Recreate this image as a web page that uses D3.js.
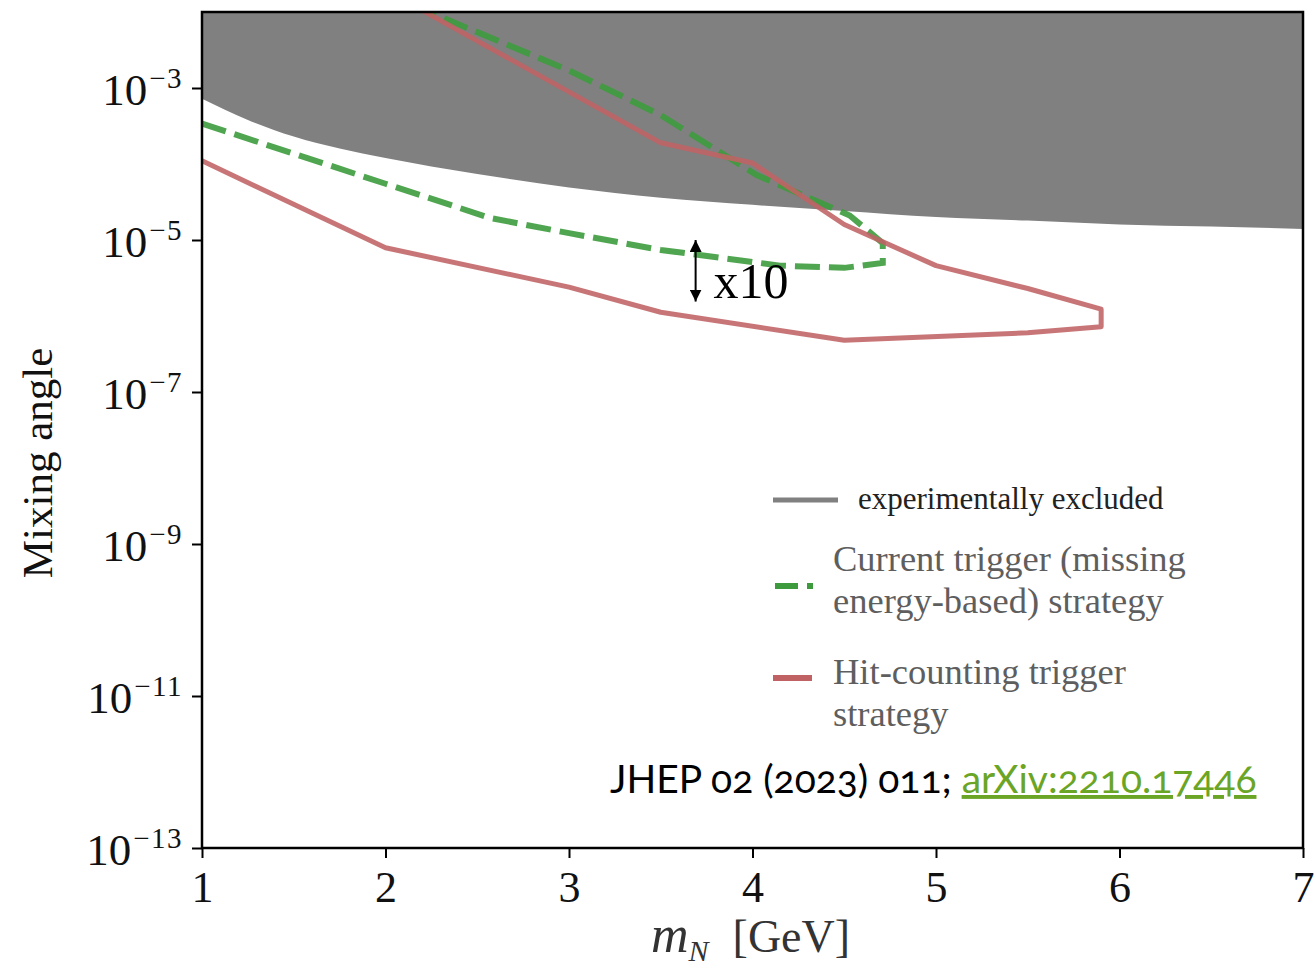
<!DOCTYPE html>
<html>
<head>
<meta charset="utf-8">
<script src="https://cdn.jsdelivr.net/npm/d3@7"></script>
<style>
  body { margin: 0; background: #fff; }
  text { font-family: "Liberation Serif", serif; }
</style>
</head>
<body>
<script>
const W = 1315, H = 966;
const margin = {top: 12, right: 12, bottom: 118, left: 202};

// axes
const massTicks = [1, 2, 3, 4, 5, 6, 7];
const mixExponents = [-13, -11, -9, -7, -5, -3];

// experimentally excluded region (lower boundary, everything above is excluded)
const exclMass = [1, 1.25, 1.5, 1.75, 2, 2.5, 3, 3.5, 4, 4.5, 5, 5.5, 6, 6.5, 7];
const exclMix = [7.2e-4, 3.8e-4, 2.3e-4, 1.6e-4, 1.2e-4, 7.4e-5, 4.9e-5, 3.6e-5,
                 2.9e-5, 2.4e-5, 2.0e-5, 1.8e-5, 1.6e-5, 1.5e-5, 1.4e-5];

// current trigger (missing energy-based) strategy
const curMass = [1.0, 2.0, 2.57, 3.0, 3.5, 4.15, 4.5, 4.71, 4.71, 4.53, 4.02, 3.5, 3.0, 2.0];
const curMix = [3.4e-4, 5.5e-5, 1.95e-5, 1.23e-5, 7.4e-6, 4.6e-6, 4.3e-6, 5.0e-6,
                9.1e-6, 2.1e-5, 7.2e-5, 4.4e-4, 1.7e-3, 1.74e-2];

// hit-counting trigger strategy
const hitMass = [1.0, 2.0, 3.0, 3.5, 4.5, 5.5, 5.9, 5.9, 5.5, 5.0, 4.5, 4.0, 3.5, 2.0];
const hitMix = [1.1e-4, 7.9e-6, 2.4e-6, 1.12e-6, 4.8e-7, 6.0e-7, 7.2e-7, 1.23e-6,
                2.3e-6, 4.6e-6, 1.6e-5, 1.03e-4, 1.9e-4, 1.95e-2];

const svg = d3.select('body').append('svg')
    .attr('width', W)
    .attr('height', H);

const x = d3.scaleLinear().domain([1, 7]).range([margin.left, W - margin.right]);
const y = d3.scaleLog().domain([1e-13, 1e-2]).range([H - margin.bottom, margin.top]);

svg.append('clipPath').attr('id', 'plot')
  .append('rect')
    .attr('x', margin.left).attr('y', margin.top)
    .attr('width', W - margin.left - margin.right)
    .attr('height', H - margin.top - margin.bottom);

const plot = svg.append('g').attr('clip-path', 'url(#plot)');

// gray excluded area
const excl = exclMass.map((m, i) => [m, exclMix[i]]);
plot.append('path')
    .datum(excl)
    .attr('fill', '#808080')
    .attr('d', d3.area()
        .x(d => x(d[0]))
        .y0(margin.top - 5)
        .y1(d => y(d[1]))
        .curve(d3.curveMonotoneX));

const line = d3.line().x(d => x(d[0])).y(d => y(d[1]));

plot.append('path')
    .datum(curMass.map((m, i) => [m, curMix[i]]))
    .attr('fill', 'none')
    .attr('stroke', '#3d9b3d')
    .attr('stroke-opacity', 0.9)
    .attr('stroke-width', 6)
    .attr('stroke-dasharray', '25,9')
    .attr('d', line);

plot.append('path')
    .datum(hitMass.map((m, i) => [m, hitMix[i]]))
    .attr('fill', 'none')
    .attr('stroke', '#c06264')
    .attr('stroke-opacity', 0.88)
    .attr('stroke-width', 5)
    .attr('stroke-linejoin', 'round')
    .attr('d', line);

// x10 arrow between the two curves
const arrowM = 3.69, arrowTop = 1e-5, arrowBot = 1.55e-6;
svg.append('defs').append('marker')
    .attr('id', 'head')
    .attr('viewBox', '0 0 10 10')
    .attr('refX', 10).attr('refY', 5)
    .attr('markerWidth', 12).attr('markerHeight', 12)
    .attr('markerUnits', 'userSpaceOnUse')
    .attr('orient', 'auto-start-reverse')
  .append('path')
    .attr('d', 'M0,0 L10,5 L0,10 Z')
    .attr('fill', '#000');

svg.append('line')
    .attr('x1', x(arrowM)).attr('x2', x(arrowM))
    .attr('y1', y(arrowTop)).attr('y2', y(arrowBot))
    .attr('stroke', '#000')
    .attr('stroke-width', 2)
    .attr('marker-start', 'url(#head)')
    .attr('marker-end', 'url(#head)');

svg.append('text')
    .attr('x', x(arrowM) + 18)
    .attr('y', y(arrowBot) - 4)
    .attr('font-size', 50)
    .text('x10');

// axes
const xAxis = svg.append('g')
    .attr('transform', `translate(0,${H - margin.bottom})`)
    .call(d3.axisBottom(x).tickValues(massTicks).tickSize(10).tickSizeOuter(0).tickFormat(d3.format('d')));
xAxis.select('.domain').remove();
xAxis.selectAll('.tick line').attr('stroke-width', 2);
xAxis.selectAll('.tick text')
    .attr('y', 23)
    .attr('font-size', 44)
    .attr('font-family', '"Liberation Serif", serif')
    .attr('fill', '#111');

const yAxis = svg.append('g')
    .attr('transform', `translate(${margin.left},0)`)
    .call(d3.axisLeft(y).tickValues(mixExponents.map(e => Math.pow(10, e))).tickSize(10).tickSizeOuter(0));
yAxis.select('.domain').remove();
yAxis.selectAll('.tick line').attr('stroke-width', 2);
yAxis.selectAll('.tick text')
    .attr('x', -19)
    .attr('dy', '0.36em')
    .attr('font-size', 45)
    .attr('font-family', '"Liberation Serif", serif')
    .attr('fill', '#111')
    .each(function(d) {
        const t = d3.select(this).text('');
        t.append('tspan').text('10');
        t.append('tspan')
            .attr('font-size', 29)
            .attr('dy', -17)
            .attr('dx', 2)
            .attr('letter-spacing', 1.5)
            .text('\u2212' + (-Math.round(Math.log10(d))));
    });

// frame
svg.append('rect')
    .attr('x', margin.left).attr('y', margin.top)
    .attr('width', W - margin.left - margin.right)
    .attr('height', H - margin.top - margin.bottom)
    .attr('fill', 'none')
    .attr('stroke', '#000')
    .attr('stroke-width', 2.5);

// axis titles
const xt = svg.append('text')
    .attr('x', 651).attr('y', 952)
    .attr('font-size', 46)
    .attr('fill', '#333');
xt.append('tspan').attr('font-style', 'italic').attr('font-size', 52).text('m');
xt.append('tspan').attr('font-style', 'italic').attr('font-size', 30).attr('dy', 9).text('N');
xt.append('tspan').attr('dy', -9).attr('dx', 24).text('[GeV]');

svg.append('text')
    .attr('transform', 'translate(52,463) rotate(-90)')
    .attr('text-anchor', 'middle')
    .attr('font-size', 43)
    .attr('fill', '#111')
    .text('Mixing angle');

// legend
const lg = svg.append('g');
lg.append('line').attr('x1', 773).attr('x2', 838).attr('y1', 500).attr('y2', 500)
    .attr('stroke', '#808080').attr('stroke-width', 5);
lg.append('text').attr('x', 858).attr('y', 509).attr('font-size', 31).attr('fill', '#222')
    .text('experimentally excluded');

lg.append('line').attr('x1', 775).attr('x2', 813).attr('y1', 586).attr('y2', 586)
    .attr('stroke', '#3d9b3d').attr('stroke-width', 6).attr('stroke-dasharray', '23,9');
const legendFont = 36.5;
lg.append('text').attr('x', 833).attr('y', 571).attr('font-size', legendFont).attr('fill', '#5e5e5e')
    .text('Current trigger (missing');
lg.append('text').attr('x', 833).attr('y', 613).attr('font-size', legendFont).attr('fill', '#5e5e5e')
    .text('energy-based) strategy');

lg.append('line').attr('x1', 773).attr('x2', 812).attr('y1', 678).attr('y2', 678)
    .attr('stroke', '#c06264').attr('stroke-width', 6);
lg.append('text').attr('x', 833).attr('y', 684).attr('font-size', legendFont).attr('fill', '#5e5e5e')
    .text('Hit-counting trigger');
lg.append('text').attr('x', 833).attr('y', 726).attr('font-size', legendFont).attr('fill', '#5e5e5e')
    .text('strategy');

// reference
const ref = svg.append('text')
    .attr('x', 610).attr('y', 793)
    .attr('font-size', 39)
    .style('font-family', 'Lato, "Open Sans", sans-serif')
    .style('font-variant-numeric', 'oldstyle-nums')
    .attr('fill', '#000');
ref.append('tspan').text('JHEP 02 (2023) 011; ');
ref.append('tspan').attr('fill', '#6aa526').attr('text-decoration', 'underline').text('arXiv:2210.17446');
</script>
</body>
</html>
